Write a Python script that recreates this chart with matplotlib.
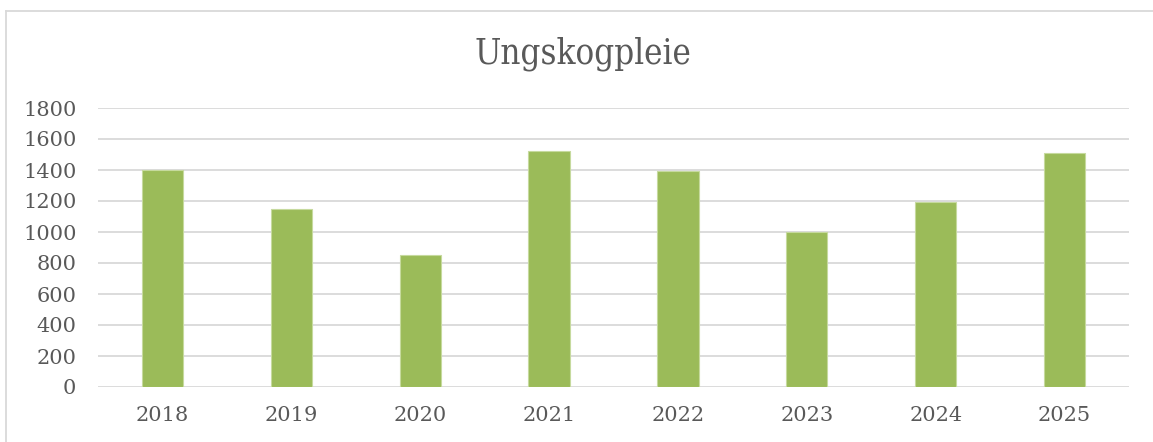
import matplotlib
matplotlib.use("Agg")
import matplotlib.pyplot as plt
from matplotlib.lines import Line2D

years = ["2018", "2019", "2020", "2021", "2022", "2023", "2024", "2025"]
values = [1400, 1150, 850, 1525, 1395, 1000, 1195, 1510]
yticks = [0, 200, 400, 600, 800, 1000, 1200, 1400, 1600, 1800]
title = "Ungskogpleie"

W, H = 1153, 442
fig = plt.figure(figsize=(W / 100, H / 100), dpi=100)
fig.patch.set_facecolor("white")

ax = fig.add_axes([98 / W, 1 - 387 / H, (1129 - 98) / W, (387 - 108) / H])
x = list(range(len(years)))
ax.bar(x, values, width=0.32, color="#9BBB59", edgecolor="#C6DA9E", linewidth=0.8, zorder=3)
ax.set_xlim(-0.5, len(years) - 0.5)
ax.set_ylim(0, 1800)
ax.set_yticks(yticks)
ax.set_yticklabels([str(v) for v in yticks])
ax.set_xticks(x)
ax.set_xticklabels(years)
for s in ax.spines.values():
    s.set_visible(False)
ax.grid(axis="y", color="#D9D9D9", linewidth=1.3, zorder=0)
ax.tick_params(axis="both", length=0, labelsize=15, colors="#595959")
ax.tick_params(axis="y", pad=15.5)
ax.tick_params(axis="x", pad=14)
for lab in ax.get_xticklabels() + ax.get_yticklabels():
    lab.set_family("DejaVu Serif")

fig.text(583 / W, 1 - 54 / H, title, ha="center", va="center", fontsize=25,
         color="#595959", family="DejaVu Serif", fontstretch="condensed")

# outer chart frame
fig.add_artist(Line2D([5.5 / W, 5.5 / W], [0, 1 - 10.5 / H], transform=fig.transFigure,
                      color="#D9D9D9", linewidth=1.3))
fig.add_artist(Line2D([5.5 / W, 1], [1 - 10.5 / H, 1 - 10.5 / H], transform=fig.transFigure,
                      color="#D9D9D9", linewidth=1.3))

fig.savefig("out.png", dpi=100)
